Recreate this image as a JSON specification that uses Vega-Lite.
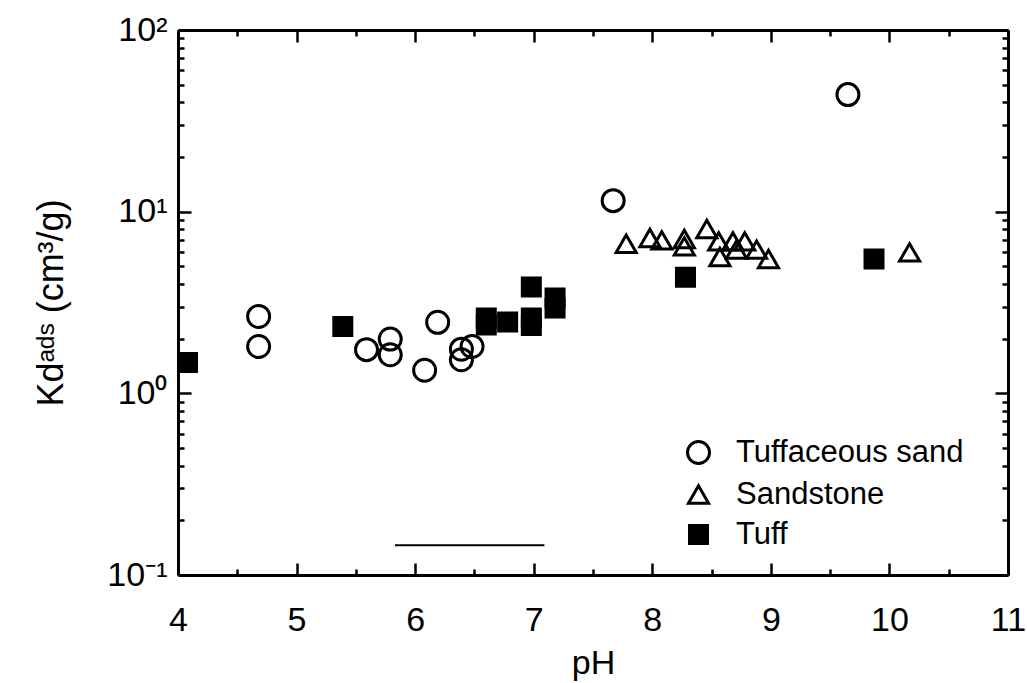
{
  "$schema": "https://vega.github.io/schema/vega-lite/v6.json",
  "width": 830,
  "height": 545,
  "autosize": {"type": "none"},
  "padding": {"left": 178, "top": 30, "right": 19, "bottom": 108},
  "background": "white",
  "config": {
    "view": {"stroke": null},
    "font": "Liberation Sans",
    "axis": {
      "grid": false,
      "domainColor": "black",
      "domainWidth": 3,
      "tickColor": "black",
      "tickWidth": 2.5,
      "labelFont": "Liberation Sans",
      "labelFontSize": 34,
      "labelColor": "black",
      "titleFont": "Liberation Sans",
      "titleFontSize": 36,
      "titleFontWeight": "normal",
      "titleColor": "black",
      "labelOverlap": false,
      "labelFlush": false
    },
    "legend": {
      "labelFont": "Liberation Sans",
      "labelFontSize": 31,
      "labelColor": "black",
      "labelLimit": 0
    }
  },
  "datasets": {
    "points": [
      {"pH": 4.68, "Kd": 2.65, "type": "Tuffaceous sand"},
      {"pH": 4.68, "Kd": 1.81, "type": "Tuffaceous sand"},
      {"pH": 5.59, "Kd": 1.74, "type": "Tuffaceous sand"},
      {"pH": 5.79, "Kd": 1.99, "type": "Tuffaceous sand"},
      {"pH": 5.79, "Kd": 1.63, "type": "Tuffaceous sand"},
      {"pH": 6.08, "Kd": 1.34, "type": "Tuffaceous sand"},
      {"pH": 6.19, "Kd": 2.46, "type": "Tuffaceous sand"},
      {"pH": 6.39, "Kd": 1.75, "type": "Tuffaceous sand"},
      {"pH": 6.39, "Kd": 1.53, "type": "Tuffaceous sand"},
      {"pH": 6.48, "Kd": 1.81, "type": "Tuffaceous sand"},
      {"pH": 7.67, "Kd": 11.5, "type": "Tuffaceous sand"},
      {"pH": 9.65, "Kd": 44.1, "type": "Tuffaceous sand"},
      {"pH": 7.78, "Kd": 6.66, "type": "Sandstone"},
      {"pH": 7.98, "Kd": 7.16, "type": "Sandstone"},
      {"pH": 8.08, "Kd": 6.95, "type": "Sandstone"},
      {"pH": 8.27, "Kd": 7.07, "type": "Sandstone"},
      {"pH": 8.27, "Kd": 6.44, "type": "Sandstone"},
      {"pH": 8.46, "Kd": 8.03, "type": "Sandstone"},
      {"pH": 8.56, "Kd": 6.86, "type": "Sandstone"},
      {"pH": 8.57, "Kd": 5.63, "type": "Sandstone"},
      {"pH": 8.68, "Kd": 6.86, "type": "Sandstone"},
      {"pH": 8.78, "Kd": 6.86, "type": "Sandstone"},
      {"pH": 8.71, "Kd": 6.18, "type": "Sandstone"},
      {"pH": 8.88, "Kd": 6.18, "type": "Sandstone"},
      {"pH": 8.98, "Kd": 5.49, "type": "Sandstone"},
      {"pH": 10.17, "Kd": 5.97, "type": "Sandstone"},
      {"pH": 4.08, "Kd": 1.48, "type": "Tuff"},
      {"pH": 5.39, "Kd": 2.33, "type": "Tuff"},
      {"pH": 6.6, "Kd": 2.6, "type": "Tuff"},
      {"pH": 6.6, "Kd": 2.38, "type": "Tuff"},
      {"pH": 6.78, "Kd": 2.47, "type": "Tuff"},
      {"pH": 6.98, "Kd": 3.85, "type": "Tuff"},
      {"pH": 6.98, "Kd": 2.6, "type": "Tuff"},
      {"pH": 6.98, "Kd": 2.36, "type": "Tuff"},
      {"pH": 7.18, "Kd": 3.35, "type": "Tuff"},
      {"pH": 7.18, "Kd": 2.95, "type": "Tuff"},
      {"pH": 8.28, "Kd": 4.35, "type": "Tuff"},
      {"pH": 9.87, "Kd": 5.49, "type": "Tuff"}
    ],
    "line": [
      {"pH1": 5.83, "pH2": 7.09, "Kd": 0.146}
    ]
  },
  "resolve": {"axis": {"x": "independent", "y": "independent"}},
  "layer": [
    {
      "data": {"name": "points"},
      "mark": {"type": "point", "filled": false, "strokeWidth": 3, "opacity": 1},
      "encoding": {
        "x": {
          "field": "pH", "type": "quantitative",
          "scale": {"domain": [4, 11], "nice": false, "zero": false},
          "axis": {
            "orient": "bottom",
            "values": [4, 4.5, 5, 5.5, 6, 6.5, 7, 7.5, 8, 8.5, 9, 9.5, 10, 10.5, 11],
            "labelExpr": "datum.value % 1 === 0 ? format(datum.value, 'd') : ''",
            "tickSize": {"condition": {"test": "datum.value % 1 !== 0", "value": -6}, "value": -12},
            "labelPadding": 40,
            "title": "pH",
            "titleFontSize": 34,
            "titlePadding": 3
          }
        },
        "y": {
          "field": "Kd", "type": "quantitative",
          "scale": {"type": "log", "domain": [0.1, 100], "nice": false},
          "axis": {
            "orient": "left",
            "values": [0.1, 0.2, 0.3, 0.4, 0.5, 0.6, 0.7, 0.8, 0.9, 1, 2, 3, 4, 5, 6, 7, 8, 9, 10, 20, 30, 40, 50, 60, 70, 80, 90, 100],
            "labelExpr": "datum.value === 100 ? '10²' : datum.value === 10 ? '10¹' : datum.value === 1 ? '10⁰' : datum.value === 0.1 ? '10⁻¹' : ''",
            "tickSize": {"condition": {"test": "indexof([0.1, 1, 10, 100], datum.value) < 0", "value": -6}, "value": -13},
            "labelPadding": 24,
            "title": "Kdᵃᵈˢ (cm³/g)",
            "titlePadding": 36
          }
        },
        "shape": {
          "field": "type", "type": "nominal",
          "scale": {"domain": ["Tuffaceous sand", "Sandstone", "Tuff"], "range": ["circle", "triangle-up", "square"]},
          "legend": {
            "title": null,
            "orient": "none",
            "legendX": 505,
            "legendY": 407,
            "padding": 0,
            "rowPadding": 8,
            "labelOffset": 22,
            "symbolStrokeWidth": 3,
            "symbolStrokeColor": "black"
          }
        },
        "fill": {
          "field": "type", "type": "nominal",
          "scale": {"domain": ["Tuffaceous sand", "Sandstone", "Tuff"], "range": ["transparent", "transparent", "black"]}
        },
        "size": {
          "field": "type", "type": "nominal",
          "scale": {"domain": ["Tuffaceous sand", "Sandstone", "Tuff"], "range": [484, 324, 169]}
        },
        "stroke": {"value": "black"}
      }
    },
    {
      "data": {"name": "line"},
      "mark": {"type": "rule", "stroke": "black", "strokeWidth": 2},
      "encoding": {
        "x": {
          "field": "pH1", "type": "quantitative",
          "axis": {
            "orient": "top",
            "values": [4, 4.5, 5, 5.5, 6, 6.5, 7, 7.5, 8, 8.5, 9, 9.5, 10, 10.5, 11],
            "labels": false,
            "title": null,
            "tickSize": {"condition": {"test": "datum.value % 1 !== 0", "value": -6}, "value": -12}
          }
        },
        "x2": {"field": "pH2"},
        "y": {
          "field": "Kd", "type": "quantitative",
          "axis": {
            "orient": "right",
            "values": [0.1, 0.2, 0.3, 0.4, 0.5, 0.6, 0.7, 0.8, 0.9, 1, 2, 3, 4, 5, 6, 7, 8, 9, 10, 20, 30, 40, 50, 60, 70, 80, 90, 100],
            "labels": false,
            "title": null,
            "tickSize": {"condition": {"test": "indexof([0.1, 1, 10, 100], datum.value) < 0", "value": -6}, "value": -13}
          }
        }
      }
    }
  ]
}
